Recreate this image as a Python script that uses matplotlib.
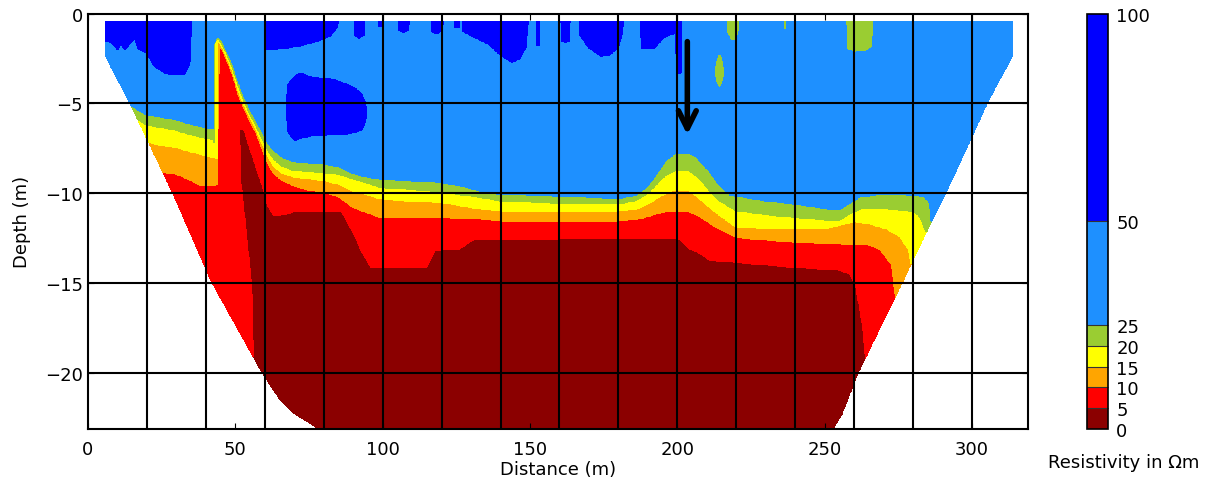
import numpy as np
import matplotlib
matplotlib.use("Agg")
import matplotlib.pyplot as plt
from matplotlib.ticker import MultipleLocator

# resistivity classes (Ohm m) and their colours
levels = [0, 5, 10, 15, 20, 25, 50, 100]
colors = ['#8b0000', '#ff0000', '#ffa500', '#ffff00', '#9acd32', '#1e90ff', '#0000ff']

# outline of the section: depth of lower edge (m) vs distance (m)
edge_dist = [5.8, 14.2, 28.7, 42.0, 59.0, 65, 70, 75, 80, 252, 256, 261.5, 269.8, 276.4, 284.5, 291.3, 298.1, 305.2, 313.8]
edge_depth = [2.35, 5.0, 10.0, 15.0, 20.0, 21.5, 22.3, 22.8, 23.4, 23.4, 22.3, 20.0, 17.2, 15.0, 12.2, 9.96, 7.55, 5.0, 2.35]
top_depth = 0.45

# depth where resistivity drops below 25, 20, 15, 10 and 5 Ohm m
h25_dist = [14.5, 20, 25, 30, 35, 40, 42.4, 42.7, 43.5, 44.1, 44.6, 45.5, 47, 49, 51, 53, 55, 57, 59, 61, 63, 66, 70, 75, 80, 85, 90, 95, 99,
            110, 120, 127, 133, 140, 160, 180, 186, 190, 193, 196, 199, 204, 206, 207.6, 211, 214, 218, 220, 230, 240, 250, 255, 258,
            262, 270, 278, 283.4, 285.6, 287]
h25_depth = [5.1, 5.65, 5.75, 5.9, 6.15, 6.35, 6.4, 1.7, 1.35, 1.26, 1.3, 1.5, 2.0, 2.7, 3.7, 4.6, 5.3, 5.9, 6.5, 7.2, 7.6, 8.0, 8.25, 8.3,
             8.38, 8.5, 8.9, 9.1, 9.22, 9.3, 9.4, 9.6, 9.87, 10.06, 10.15, 10.3, 10.1, 9.6, 8.9, 8.2, 7.8, 7.77, 7.9, 8.2, 8.8, 9.5, 10.1,
             10.15, 10.43, 10.6, 10.85, 10.9, 10.6, 10.2, 10.05, 10.1, 10.15, 10.5, 13.0]

h20_dist = [17, 20, 25, 30, 35, 40, 42.4, 42.8, 43.1, 43.5, 44.1, 44.6, 45.5, 47, 49, 51, 53, 55, 57, 59, 61, 63, 66, 70, 75, 80, 85, 90,
            95, 99, 110, 120, 133, 140, 160, 180, 186, 190, 193, 196, 199, 204, 207.6, 211, 214, 220, 230, 240, 250, 255, 258, 262, 271,
            280, 282.2, 284.5, 286]
h20_depth = [5.9, 6.2, 6.35, 6.5, 6.75, 6.95, 7.0, 7.2, 1.6, 1.5, 1.4, 1.45, 1.7, 2.2, 3.0, 4.0, 4.9, 5.6, 6.25, 6.9, 7.6, 8.1, 8.5, 8.75,
             8.8, 8.85, 8.95, 9.2, 9.45, 9.68, 9.8, 9.96, 10.24, 10.43, 10.56, 10.61, 10.4, 10.0, 9.5, 9.0, 8.78, 8.75, 9.2, 9.9, 10.4,
             10.98, 11.2, 11.36, 11.5, 11.5, 11.2, 10.9, 10.89, 11.0, 11.3, 12.2, 13.0]

h15_dist = [20.4, 25, 30, 35, 40, 42.4, 43.8, 44.1, 44.6, 45.5, 47, 49, 51, 53, 55, 57, 59, 61, 63, 66, 70, 75, 80, 85, 90, 95, 99, 110,
            120, 133, 140, 180, 186, 190, 194, 198, 204, 207.6, 213, 220, 240, 250, 260, 265, 271, 275.4, 278.3, 279.5]
h15_depth = [7.17, 7.35, 7.45, 7.7, 7.92, 8.0, 8.1, 1.6, 1.6, 1.85, 2.4, 3.2, 4.3, 5.1, 5.8, 6.45, 7.2, 7.9, 8.5, 8.9, 9.1, 9.2, 9.3, 9.5,
             9.9, 10.1, 10.33, 10.45, 10.52, 10.89, 10.98, 10.98, 10.9, 10.6, 10.2, 9.9, 9.87, 10.33, 11.08, 11.91, 12.0, 12.0, 11.6,
             11.7, 12.0, 12.4, 13.1, 14.0]

h10_dist = [26, 30, 35, 38.4, 42.4, 44.0, 44.5, 45.5, 47, 49, 51, 53, 55, 57, 59, 61, 63, 66, 70, 75, 80, 85, 90, 95, 99, 120, 133, 140,
            180, 187, 192, 197, 203, 207.6, 213, 220, 240, 260, 265, 268.7, 272.6, 273.5, 274.5]
h10_depth = [8.84, 8.94, 9.3, 9.6, 9.6, 9.5, 1.8, 2.0, 2.55, 3.4, 4.5, 5.3, 6.0, 6.6, 7.5, 8.3, 8.9, 9.3, 9.6, 9.85, 9.96, 10.2, 10.8,
             11.1, 11.36, 11.36, 11.45, 11.54, 11.54, 11.45, 11.2, 11.0, 10.98, 11.3, 11.9, 12.47, 12.75, 12.84, 12.9, 13.12, 13.96,
             14.98, 17.0]

h5_dist = [51.5, 53, 54.5, 56.5, 59, 61, 63, 67, 70.7, 86, 90, 93, 96, 114.9, 117.7, 126.2, 131.3, 150, 199, 201, 204, 207, 211, 220,
           240, 255, 258.5, 260.5, 262, 263.3, 263.8, 264.5]
h5_depth = [6.4, 6.5, 7.3, 8.3, 9.5, 10.7, 11.25, 11.2, 11.0, 11.0, 12.2, 13.3, 14.15, 14.15, 13.2, 13.1, 12.55, 12.55, 12.5, 12.6,
            13.1, 13.3, 13.75, 13.87, 14.14, 14.3, 14.5, 15.2, 16.5, 18.0, 19.5, 30.0]
# left flank of the < 5 Ohm m body (distance vs depth)
dr_edge_depth = [6.4, 9.2, 11.4, 15.0, 19.5, 24.0]
dr_edge_dist = [51.5, 51.8, 53.2, 55.5, 56.2, 56.2]

# near-surface > 50 Ohm m zones: bottom depth vs distance (0 = none)
hi_dist = [5.5, 8, 10, 11.3, 12.5, 14, 15.8, 17, 20, 22.6, 26, 29.4, 32.8, 34, 34.8, 35.2,
           59.8, 60, 63, 68, 73, 76.4, 80, 82.5, 84.5, 85.5,
           90.3, 90.6, 92, 93.6, 93.9, 98.3, 98.6, 99.5, 99.8,
           105.1, 105.4, 107, 108.9, 109.2, 116.4, 116.7, 118.5, 120.3, 120.6, 124.3, 124.6, 125.9, 126.2,
           127.1, 127.4, 131, 136, 140, 144, 146.5, 148.8, 149.4, 152, 152.3, 153, 153.3,
           160.5, 160.8, 162, 163.4, 163.7, 166.7, 167, 170, 174, 177, 180, 181.5, 181.8,
           187.6, 187.9, 192, 195, 197, 199.4, 199.8, 201.2, 201.5]
hi_depth = [1.5, 1.6, 2.0, 1.7, 2.0, 1.7, 1.35, 1.95, 2.2, 2.95, 3.3, 3.4, 3.35, 3.0, 2.5, 0,
            0, 2.0, 2.0, 1.9, 1.75, 1.6, 1.4, 1.2, 0.8, 0,
            0, 1.2, 1.35, 1.2, 0, 0, 0.7, 0.7, 0,
            0, 0.9, 1.05, 0.9, 0, 0, 1.0, 1.1, 0.9, 0, 0, 0.75, 0.75, 0,
            0, 1.0, 1.3, 1.7, 2.3, 2.7, 2.5, 1.8, 0, 0, 1.75, 1.75, 0,
            0, 1.5, 1.6, 1.5, 0, 0, 1.2, 1.9, 2.35, 2.3, 1.9, 1.0, 0,
            0, 1.95, 1.95, 1.4, 1.2, 1.1, 3.3, 3.3, 0]

# near-surface 20-25 Ohm m zones
lo_dist = [216.3, 216.6, 218, 220, 221.2, 221.5, 235.8, 236, 237, 237.2, 257.1, 257.4, 260, 264, 266.3, 266.6]
lo_depth = [0, 1.0, 1.5, 1.55, 0.9, 0, 0, 0.9, 0.9, 0, 0, 2.0, 2.15, 2.1, 1.9, 0]

# buried > 50 Ohm m body
blob_dist = [67.3, 68, 70, 72, 76, 80, 84, 88, 91, 93, 94.2, 94.6]
blob_top = [5.0, 3.9, 3.5, 3.3, 3.55, 3.6, 3.7, 3.95, 4.2, 4.5, 5.0, 5.4]
blob_bot = [5.5, 6.6, 7.05, 6.95, 6.8, 6.75, 6.7, 6.7, 6.6, 6.45, 6.0, 5.6]

# small 20-25 Ohm m lens
lens_dist = [212.6, 213, 214, 215, 215.8, 216.2]
lens_top = [3.2, 2.6, 2.2, 2.3, 2.7, 3.2]
lens_bot = [3.3, 3.8, 4.15, 4.05, 3.7, 3.3]

# build the gridded section
x = np.arange(0, 320.01, 0.2)[None, :]
h = np.arange(0.3, 23.6, 0.04)[:, None]
V = np.full((h.size, x.size), 37.5)
for d, dep, val in [(h25_dist, h25_depth, 22.5), (h20_dist, h20_depth, 17.5),
                    (h15_dist, h15_depth, 12.5), (h10_dist, h10_depth, 7.5)]:
    V = np.where(h >= np.interp(x, d, dep), val, V)
dr_left = np.interp(h, dr_edge_depth, dr_edge_dist)
V = np.where((h >= np.interp(x, h5_dist, h5_depth)) & (x >= dr_left), 2.5, V)
V = np.where(h < np.interp(x, hi_dist, hi_depth, left=0, right=0), 75, V)
V = np.where(h < np.interp(x, lo_dist, lo_depth, left=0, right=0), 22.5, V)
bt = np.interp(x, blob_dist, blob_top, left=np.nan, right=np.nan)
bb = np.interp(x, blob_dist, blob_bot, left=np.nan, right=np.nan)
V = np.where((h > bt) & (h < bb), 75, V)
lt = np.interp(x, lens_dist, lens_top, left=np.nan, right=np.nan)
lb = np.interp(x, lens_dist, lens_bot, left=np.nan, right=np.nan)
V = np.where((h > lt) & (h < lb), 22.5, V)

bottom = np.interp(x, edge_dist, edge_depth, left=-1, right=-1)
outside = (h > bottom) | (h < top_depth) | (x < edge_dist[0]) | (x > edge_dist[-1])
V = np.ma.masked_where(outside, V)

fig = plt.figure(figsize=(12.2, 4.81), dpi=100)
ax = fig.add_axes([0.0721, 0.106, 0.7705, 0.8634])
cax = fig.add_axes([0.891, 0.106, 0.0172, 0.8634])

cs = ax.contourf(np.broadcast_to(x, V.shape), -np.broadcast_to(h, V.shape), V, levels=levels, colors=colors)

ax.set_xlim(0, 319)
ax.set_ylim(-23.15, 0)
ax.xaxis.set_major_locator(MultipleLocator(50))
ax.yaxis.set_major_locator(MultipleLocator(5))
# electrode grid: every 20 m across, every 5 m down
for gx in range(20, 319, 20):
    ax.axvline(gx, color='black', lw=1.5, zorder=3)
for gy in range(-20, 0, 5):
    ax.axhline(gy, color='black', lw=1.5, zorder=3)
ax.tick_params(which='major', direction='in', top=True, right=True, length=4, labelsize=13)
ax.tick_params(axis='x', pad=8)
for s in ax.spines.values():
    s.set_linewidth(1.5)
    s.set_zorder(4)
ax.set_xlabel('Distance (m)', fontsize=13, labelpad=1)
ax.set_ylabel('Depth (m)', fontsize=13, labelpad=10)

ax.annotate('', xy=(203.4, -6.9), xytext=(203.4, -1.4),
            arrowprops=dict(arrowstyle='->', lw=4, color='black', mutation_scale=32), zorder=5)

cb = fig.colorbar(cs, cax=cax, ticks=levels, spacing='proportional', drawedges=True)
cb.outline.set_linewidth(1.2)
cb.dividers.set_linewidth(0.8)
cb.dividers.set_color('#333333')
cax.tick_params(length=0, pad=6, labelsize=13)
fig.text(0.9213, 0.037, 'Resistivity in Ωm', fontsize=13, ha='center', va='center')

fig.savefig('out.png', dpi=100)
